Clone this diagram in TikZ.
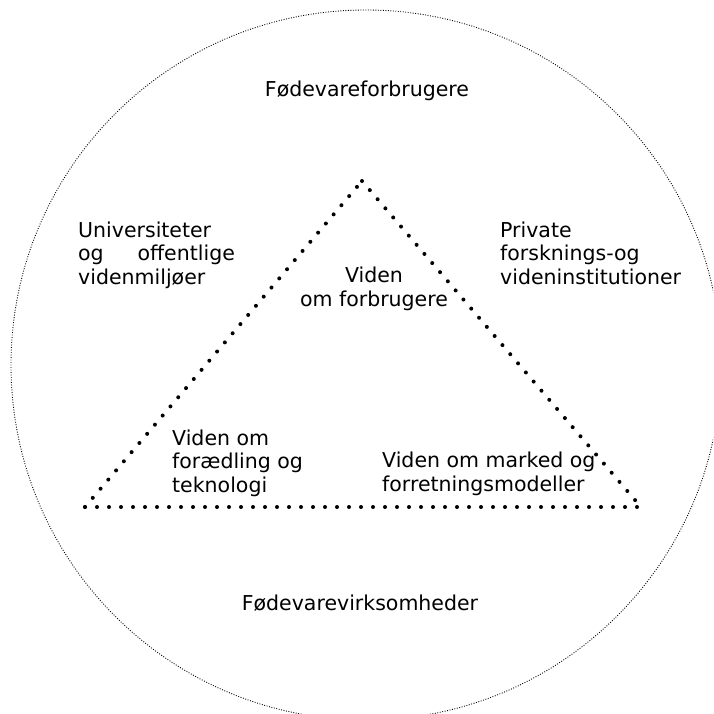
\documentclass[tikz,border=0pt]{standalone}
\usepackage{fontspec}
\setmainfont{DejaVu Sans}

\begin{document}
\begin{tikzpicture}[x=1pt,y=-1pt,
    label/.style={inner sep=0pt,font=\fontsize{20.5}{23.5}\selectfont,align=left,anchor=base west},
    thickdots/.style={line width=4pt,line cap=round,dash pattern=on 0pt off 12pt},
    thindots/.style={line width=0.9pt,dash pattern=on 0.9pt off 1.6pt}]
    \useasboundingbox (0,0) rectangle (713,714);
    \clip (0,0) rectangle (713,714);
    \draw[thindots] (366,365) circle[radius=355];
    \coordinate (top) at (362,181);
    \coordinate (left) at (85,507);
    \coordinate (right) at (641,507);
    \draw[thickdots] (left) -- (top);
    \draw[thickdots] (top) -- (right);
    \draw[thickdots] (left) -- (right);
    % multi-line nodes: base is the last line
    \node[label,anchor=base] (consumers) at (367,97) {Fødevareforbrugere};
    \node[label] (univ) at (78,284) {Universiteter\\og\hspace{1.65em}offentlige\\videnmiljøer};
    \node[label] (private) at (500,284) {Private\\forsknings-og\\videninstitutioner};
    \node[label,align=center,anchor=base] (knowcons) at (374,306) {Viden\\om forbrugere};
    \node[label] (knowtech) at (172,492) {Viden om\\forædling og\\teknologi};
    \node[label] (knowmarket) at (382,491) {Viden om marked og\\forretningsmodeller};
    \node[label,anchor=base] (firms) at (360,610) {Fødevarevirksomheder};
\end{tikzpicture}
\end{document}
